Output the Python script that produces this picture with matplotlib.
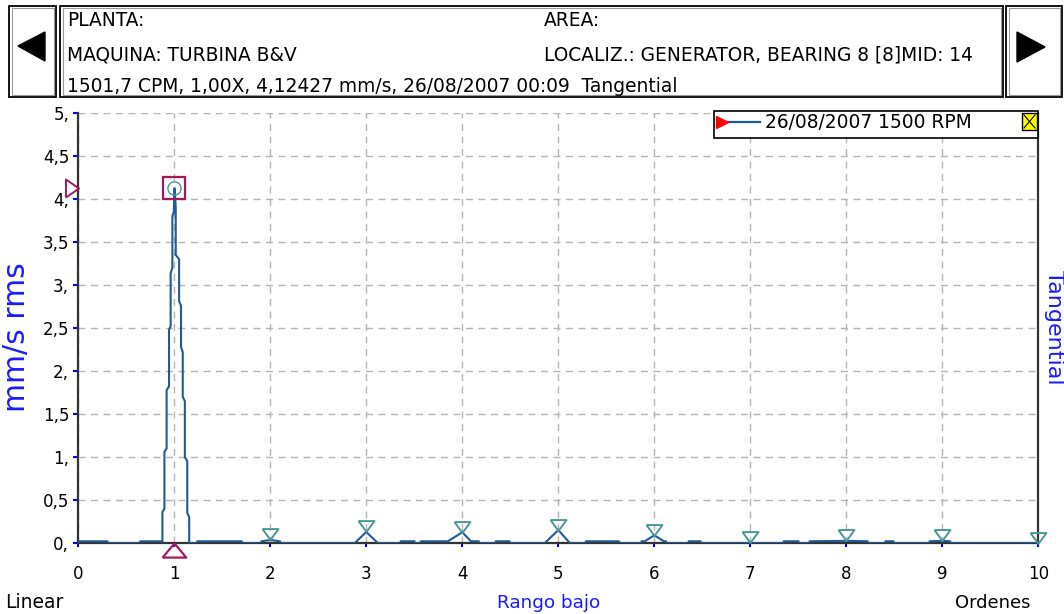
import matplotlib
matplotlib.use("Agg")
import matplotlib.pyplot as plt
from matplotlib.patches import Rectangle, Polygon
from matplotlib.lines import Line2D
from matplotlib.transforms import offset_copy
from matplotlib.ticker import FixedLocator, FixedFormatter

plt.rcParams['font.family'] = ['DejaVu Sans']

# ---------------- data ----------------
spectrum_orders = [0.00, 0.30, 0.32, 0.63, 0.65, 0.86,
                   0.876, 0.876, 0.897, 0.897, 0.92, 0.92, 0.945, 0.945, 0.962, 0.962,
                   0.98, 0.98, 0.995, 1.00, 1.005, 1.015, 1.015, 1.05, 1.05, 1.07, 1.07,
                   1.088, 1.088, 1.11, 1.11, 1.135, 1.135, 1.155, 1.155,
                   1.24, 1.24, 1.70, 1.71, 1.90, 1.91, 2.00, 2.10, 2.11,
                   2.88, 3.00, 3.12, 3.35, 3.36, 3.50, 3.51, 3.56, 3.57, 3.85, 4.00, 4.09,
                   4.17, 4.18, 4.34, 4.35, 4.49, 4.50, 4.86, 5.00, 5.12, 5.28, 5.29, 5.63,
                   5.64, 5.86, 5.87, 5.90, 6.00, 6.10, 6.12, 6.13, 6.35, 6.36, 6.48, 6.49,
                   7.34, 7.35, 7.50, 7.51, 7.61, 7.62, 8.00, 8.22, 8.23, 8.40, 8.41, 8.49,
                   8.50, 8.86, 8.87, 9.00, 9.08, 9.09, 10.00]
spectrum_amps = [0.02, 0.02, 0.0, 0.0, 0.02, 0.02,
                 0.02, 0.36, 0.40, 1.06, 1.10, 1.78, 1.82, 2.48, 2.52, 3.14,
                 3.20, 3.80, 3.85, 4.12, 4.12, 3.90, 3.35, 3.30, 2.81, 2.76, 2.28,
                 2.22, 1.70, 1.65, 1.00, 0.95, 0.35, 0.30, 0.0,
                 0.0, 0.02, 0.02, 0.0, 0.0, 0.02, 0.035, 0.02, 0.0,
                 0.0, 0.128, 0.0, 0.0, 0.02, 0.02, 0.0, 0.0, 0.02, 0.02, 0.125, 0.02,
                 0.02, 0.0, 0.0, 0.02, 0.02, 0.0, 0.0, 0.15, 0.0, 0.0, 0.02, 0.02,
                 0.0, 0.0, 0.02, 0.02, 0.09, 0.02, 0.02, 0.0, 0.0, 0.02, 0.02, 0.0,
                 0.0, 0.02, 0.02, 0.0, 0.0, 0.02, 0.025, 0.02, 0.0, 0.0, 0.02, 0.02,
                 0.0, 0.0, 0.02, 0.025, 0.02, 0.0, 0.0]

harmonic_orders = [2, 3, 4, 5, 6, 7, 8, 9, 10]
harmonic_amps = [0.035, 0.128, 0.125, 0.15, 0.09, 0.01, 0.025, 0.025, 0.0]

cursor_order = 1.0
cursor_amp = 4.12427

x_ticks = [0, 1, 2, 3, 4, 5, 6, 7, 8, 9, 10]
x_tick_labels = ["0", "1", "2", "3", "4", "5", "6", "7", "8", "9", "10"]
y_ticks = [0, 0.5, 1, 1.5, 2, 2.5, 3, 3.5, 4, 4.5, 5]
y_tick_labels = ["0,", "0,5", "1,", "1,5", "2,", "2,5", "3,", "3,5", "4,", "4,5", "5,"]

header_left = ["PLANTA:", "MAQUINA: TURBINA B&V",
               "1501,7 CPM, 1,00X, 4,12427 mm/s, 26/08/2007 00:09  Tangential"]
header_right = ["AREA:", "LOCALIZ.: GENERATOR, BEARING 8 [8]MID: 14"]
legend_label = "26/08/2007 1500 RPM"

# ---------------- figure ----------------
W, H = 1064, 614
fig = plt.figure(figsize=(W / 100, H / 100), dpi=100)
fig.patch.set_facecolor("white")

def fx(x):
    return x / W

def fy(y):
    return 1 - y / H

ax = fig.add_axes([fx(78.3), fy(543), 960 / W, 430 / H])
ax.set_xlim(0, 10)
ax.set_ylim(0, 5)

line_color = "#1f5a9a"
mag = "#a3195b"
teal = "#4a9898"
blue = "#1a1aff"

ax.plot(spectrum_orders, spectrum_amps, color=line_color, lw=1.5, zorder=3,
        solid_joinstyle="miter")

# grid
ax.grid(True, color="#b4b4b4", linestyle=(0, (5, 4)), lw=1.0, zorder=1)
ax.set_axisbelow(True)

for s in ["left", "bottom", "right"]:
    ax.spines[s].set_color("#333333")
    ax.spines[s].set_linewidth(1.6)
    ax.spines[s].set_zorder(2.5)
ax.spines["top"].set_visible(False)

ax.xaxis.set_major_locator(FixedLocator(x_ticks))
ax.xaxis.set_major_formatter(FixedFormatter(x_tick_labels))
ax.yaxis.set_major_locator(FixedLocator(y_ticks))
ax.yaxis.set_major_formatter(FixedFormatter(y_tick_labels))
ax.tick_params(axis="x", direction="out", length=3, width=1.5, color="#0000ff",
               pad=13, labelsize=12, labelcolor="black")
ax.tick_params(axis="y", direction="out", length=3.6, width=1.5, color="#0000ff",
               pad=3, labelsize=12, labelcolor="black")

# harmonic markers (down triangles, apex at value)
tri_down = [(-1, 0.68), (1, 0.68), (0, -0.68), (-1, 0.68)]
tr_up = offset_copy(ax.transData, fig=fig, x=0, y=5.5, units="dots")
ax.plot(harmonic_orders, harmonic_amps, linestyle="none", marker=tri_down,
        markersize=11.5, mfc="none", mec=teal, mew=1.4, transform=tr_up,
        clip_on=False, zorder=4)

# cursor markers
ax.plot([cursor_order], [cursor_amp], marker="s", markersize=16, mfc="none",
        mec=mag, mew=1.6, linestyle="none", zorder=5, clip_on=False)
ax.plot([cursor_order], [cursor_amp], marker="o", markersize=9.5, mfc="none",
        mec=teal, mew=1.0, linestyle="none", zorder=5, clip_on=False)
tri_up = [(-1, -0.6), (1, -0.6), (0, 0.6), (-1, -0.6)]
tr_dn = offset_copy(ax.transData, fig=fig, x=0, y=-7, units="dots")
ax.plot([cursor_order], [0], marker=tri_up, markersize=17, mfc="none", mec=mag,
        mew=1.6, linestyle="none", transform=tr_dn, clip_on=False, zorder=5)
tri_right = [(-0.72, -1), (-0.72, 1), (0.72, 0), (-0.72, -1)]
tr_lf = offset_copy(ax.transData, fig=fig, x=-6.5, y=0, units="dots")
ax.plot([0], [cursor_amp], marker=tri_right, markersize=13, mfc="none", mec=mag,
        mew=1.4, linestyle="none", transform=tr_lf, clip_on=False, zorder=5)

# axis labels
fig.text(fx(17), fy(337), "mm/s rms", rotation=90, color=blue, fontsize=21.5,
         ha="center", va="center")
fig.text(fx(1054), fy(327), "Tangential", rotation=270, color=blue, fontsize=16,
         ha="center", va="center")
fig.text(fx(5), fy(603), "Linear", color="black", fontsize=13.5, ha="left", va="center")
fig.text(fx(549), fy(603), "Rango bajo", color=blue, fontsize=13.2, ha="center",
         va="center")
fig.text(fx(1030), fy(603), "Ordenes", color="black", fontsize=12.9, ha="right",
         va="center")

# ---------------- header ----------------
def box(x0, y0, x1, y1):
    fig.add_artist(Rectangle((fx(x0), fy(y1)), (x1 - x0) / W, (y1 - y0) / H,
                             transform=fig.transFigure, fill=False,
                             edgecolor="black", lw=1.3))
    fig.add_artist(Rectangle((fx(x0 + 2.5), fy(y1 - 2.5)), (x1 - x0 - 5) / W,
                             (y1 - y0 - 5) / H, transform=fig.transFigure,
                             fill=False, edgecolor="#9a9a9a", lw=0.8))

box(9, 6, 56, 97)
box(60, 6, 1003, 97)
box(1006, 6, 1062, 97)

fig.add_artist(Polygon([(fx(18), fy(46)), (fx(45), fy(32)), (fx(45), fy(61))],
                       closed=True, transform=fig.transFigure, facecolor="black",
                       edgecolor="black"))
fig.add_artist(Polygon([(fx(1045), fy(47)), (fx(1017), fy(32)), (fx(1017), fy(62))],
                       closed=True, transform=fig.transFigure, facecolor="black",
                       edgecolor="black"))

for txt, yy in zip(header_left, [21, 55, 86]):
    fig.text(fx(67), fy(yy), txt, fontsize=13.4, ha="left", va="center")
for txt, yy in zip(header_right, [21, 55]):
    fig.text(fx(544), fy(yy), txt, fontsize=13.4, ha="left", va="center")

# ---------------- legend ----------------
fig.add_artist(Rectangle((fx(714), fy(138)), (1038 - 714) / W, 27 / H,
                         transform=fig.transFigure, facecolor="white",
                         edgecolor="black", lw=1.2, zorder=10))
fig.add_artist(Line2D([fx(727), fx(760)], [fy(122), fy(122)], color=line_color,
                      lw=1.6, transform=fig.transFigure, zorder=11))
fig.add_artist(Line2D([fx(722)], [fy(122)], marker=">", markersize=8,
                      color="#ff0000", mec="#ff0000", linestyle="none",
                      transform=fig.transFigure, zorder=11))
fig.text(fx(765), fy(122), legend_label, fontsize=13.4, ha="left", va="center",
         zorder=11)
fig.add_artist(Rectangle((fx(1022), fy(130)), 15 / W, 17 / H,
                         transform=fig.transFigure, facecolor="#ffff00",
                         edgecolor="black", lw=1.0, zorder=12))
fig.add_artist(Line2D([fx(1024), fx(1035)], [fy(115), fy(128)], color="black",
                      lw=0.8, transform=fig.transFigure, zorder=13))
fig.add_artist(Line2D([fx(1024), fx(1035)], [fy(128), fy(115)], color="black",
                      lw=0.8, transform=fig.transFigure, zorder=13))

fig.savefig("out.png", dpi=100, facecolor="white")
